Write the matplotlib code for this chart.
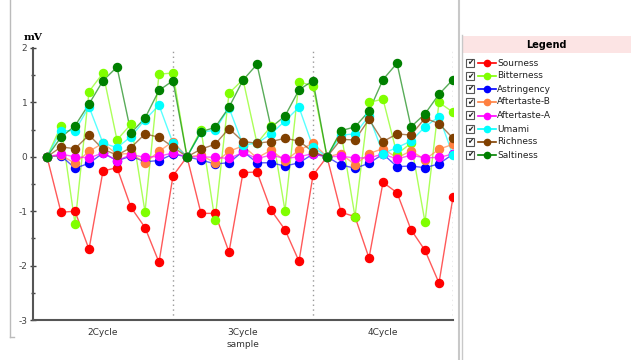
import matplotlib
matplotlib.use("Agg")
import matplotlib.pyplot as plt
from matplotlib.lines import Line2D
from matplotlib.patches import Rectangle

plt.rcParams["axes.unicode_minus"] = False

series_names = ["Sourness", "Bitterness", "Astringency", "Aftertaste-B",
                "Aftertaste-A", "Umami", "Richness", "Saltiness"]
series_colors = ["#ff0000", "#80ff00", "#0000ff", "#ff8040",
                 "#ff00ff", "#00ffff", "#804000", "#008000"]

sourness = [0, -1.02, -1.00, -1.70, -0.26, -0.20, -0.93, -1.30, -1.94, -0.35,
            0, -1.04, -1.04, -1.75, -0.29, -0.28, -0.98, -1.34, -1.92, -0.34,
            0, -1.02, -1.10, -1.86, -0.47, -0.66, -1.34, -1.72, -2.32, -0.74]
bitterness = [0, 0.57, -1.23, 1.20, 1.54, 0.31, 0.60, -1.01, 1.52, 1.54,
              0, 0.50, -1.17, 1.17, 1.42, 0.25, 0.56, -0.99, 1.38, 1.30,
              0, 0.45, -1.10, 1.00, 1.06, 0.05, 0.25, -1.20, 1.00, 0.82]
astringency = [0, 0.02, -0.21, -0.12, 0.07, -0.07, 0.01, -0.09, -0.07, 0.05,
               0, -0.06, -0.13, -0.11, 0.10, -0.11, -0.11, -0.17, -0.11, 0.05,
               0, -0.15, -0.21, -0.12, 0.05, -0.18, -0.17, -0.20, -0.13, 0.05]
aftertaste_b = [0, 0.03, -0.12, 0.10, 0.25, 0.05, 0.06, -0.11, 0.10, 0.28,
                0, 0.03, -0.11, 0.10, 0.20, -0.02, 0.12, -0.07, 0.12, 0.25,
                0, 0.06, -0.15, 0.06, 0.15, -0.02, 0.11, -0.05, 0.14, 0.23]
aftertaste_a = [0, 0.05, 0.00, -0.02, 0.07, -0.07, 0.04, -0.01, 0.01, 0.07,
                0, 0.00, -0.01, -0.03, 0.08, -0.03, 0.03, -0.03, 0.00, 0.06,
                0, 0.01, -0.02, -0.02, 0.05, -0.04, 0.03, -0.02, -0.01, 0.05]
umami = [0, 0.48, 0.48, 0.92, 0.25, 0.17, 0.37, 0.68, 0.95, 0.25,
         0, 0.45, 0.49, 0.90, 0.22, 0.25, 0.42, 0.66, 0.91, 0.18,
         0, 0.40, 0.42, 0.75, 0.06, 0.17, 0.29, 0.55, 0.74, 0.03]
richness = [0, 0.18, 0.15, 0.40, 0.14, 0.03, 0.17, 0.42, 0.36, 0.18,
            0, 0.14, 0.23, 0.52, 0.28, 0.25, 0.28, 0.34, 0.29, 0.09,
            0, 0.32, 0.31, 0.69, 0.28, 0.42, 0.40, 0.71, 0.61, 0.34]
saltiness = [0, 0.36, 0.57, 0.97, 1.40, 1.65, 0.44, 0.71, 1.22, 1.40,
             0, 0.46, 0.54, 0.91, 1.41, 1.70, 0.54, 0.75, 1.23, 1.40,
             0, 0.48, 0.55, 0.84, 1.42, 1.72, 0.55, 0.79, 1.15, 1.42]

all_series = [sourness, bitterness, astringency, aftertaste_b,
              aftertaste_a, umami, richness, saltiness]

cycle_labels = ["2Cycle", "3Cycle", "4Cycle"]
cycle_label_pos = [4, 14, 24]
cycle_bounds = [9, 19, 29]

fig = plt.figure(figsize=(6.31, 3.60), dpi=100)
ax = fig.add_axes([33/631, 1-320/360, 420/631, 272/360])

x = list(range(len(sourness)))
for vals, col in zip(all_series, series_colors):
    ax.plot(x, vals, color=col, lw=1.0, alpha=0.65, zorder=2)
    ax.plot(x, vals, ls="none", marker="o", ms=5.8, color=col,
            markeredgecolor=col, zorder=3)

for b in cycle_bounds:
    ax.axvline(b, color="#999999", ls=(0, (1, 2.5)), lw=1.0, zorder=1)

ax.set_xlim(-1, 29)
ax.set_ylim(-3, 2)
ax.set_yticks([-3, -2, -1, 0, 1, 2])
ax.set_yticks([-2.5, -1.5, -0.5, 0.5, 1.5], minor=True)
ax.set_xticks(cycle_label_pos)
ax.set_xticklabels(cycle_labels, fontsize=6.5, color="#333333")
ax.tick_params(axis="x", length=0, pad=6)
ax.tick_params(axis="y", which="major", labelsize=6.5, length=4,
               width=1, colors="#444444", direction="inout", pad=2)
ax.tick_params(axis="y", which="minor", length=3, width=1,
               colors="#444444", direction="inout")
ax.set_xlabel("sample", fontsize=6.5, color="#333333", labelpad=2)
for s in ["top", "right"]:
    ax.spines[s].set_visible(False)
for s in ["left", "bottom"]:
    ax.spines[s].set_color("#555555")
    ax.spines[s].set_linewidth(1.5)

fig.text(24/631, 1-37/360, "mV", fontsize=7.5, fontweight="bold",
         family="DejaVu Serif", ha="left", va="center")

# outer frame lines
fig.add_artist(Line2D([10/631, 10/631], [1-337/360, 1.0], color="#bbbbbb", lw=1))
fig.add_artist(Line2D([10/631, 14/631], [1-337/360, 1-337/360], color="#bbbbbb", lw=1))
fig.add_artist(Line2D([459/631, 459/631], [0, 1], color="#c8c8c8", lw=1.5))
fig.add_artist(Line2D([462/631, 462/631], [0, 1-35/360], color="#c8c8c8", lw=1))

# legend panel
fig.add_artist(Rectangle((463/631, 1-53/360), (631-463)/631, 17/360,
                         facecolor="#fce4e4", edgecolor="none",
                         transform=fig.transFigure))
fig.text(546/631, 1-45/360, "Legend", fontsize=7, fontweight="bold",
         ha="center", va="center")
entry_y = [63, 76, 89, 102, 115.5, 129, 142, 155]
for name, col, yy in zip(series_names, series_colors, entry_y):
    yf = 1 - yy/360
    fig.add_artist(Rectangle((466/631, yf - 4/360), 8/631, 8/360,
                             facecolor="white", edgecolor="#555555", lw=0.8,
                             transform=fig.transFigure))
    fig.text(470/631, yf, "\u2714", fontsize=5.5, ha="center", va="center",
             color="#222222")
    fig.add_artist(Line2D([478/631, 496/631], [yf, yf], color=col, lw=1.2))
    fig.add_artist(Line2D([487/631], [yf], marker="o", ms=4.5, color=col,
                          ls="none"))
    fig.text(497/631, yf, name, fontsize=6.5, ha="left", va="center",
             color="#222222")

fig.savefig("out.png", dpi=100)
